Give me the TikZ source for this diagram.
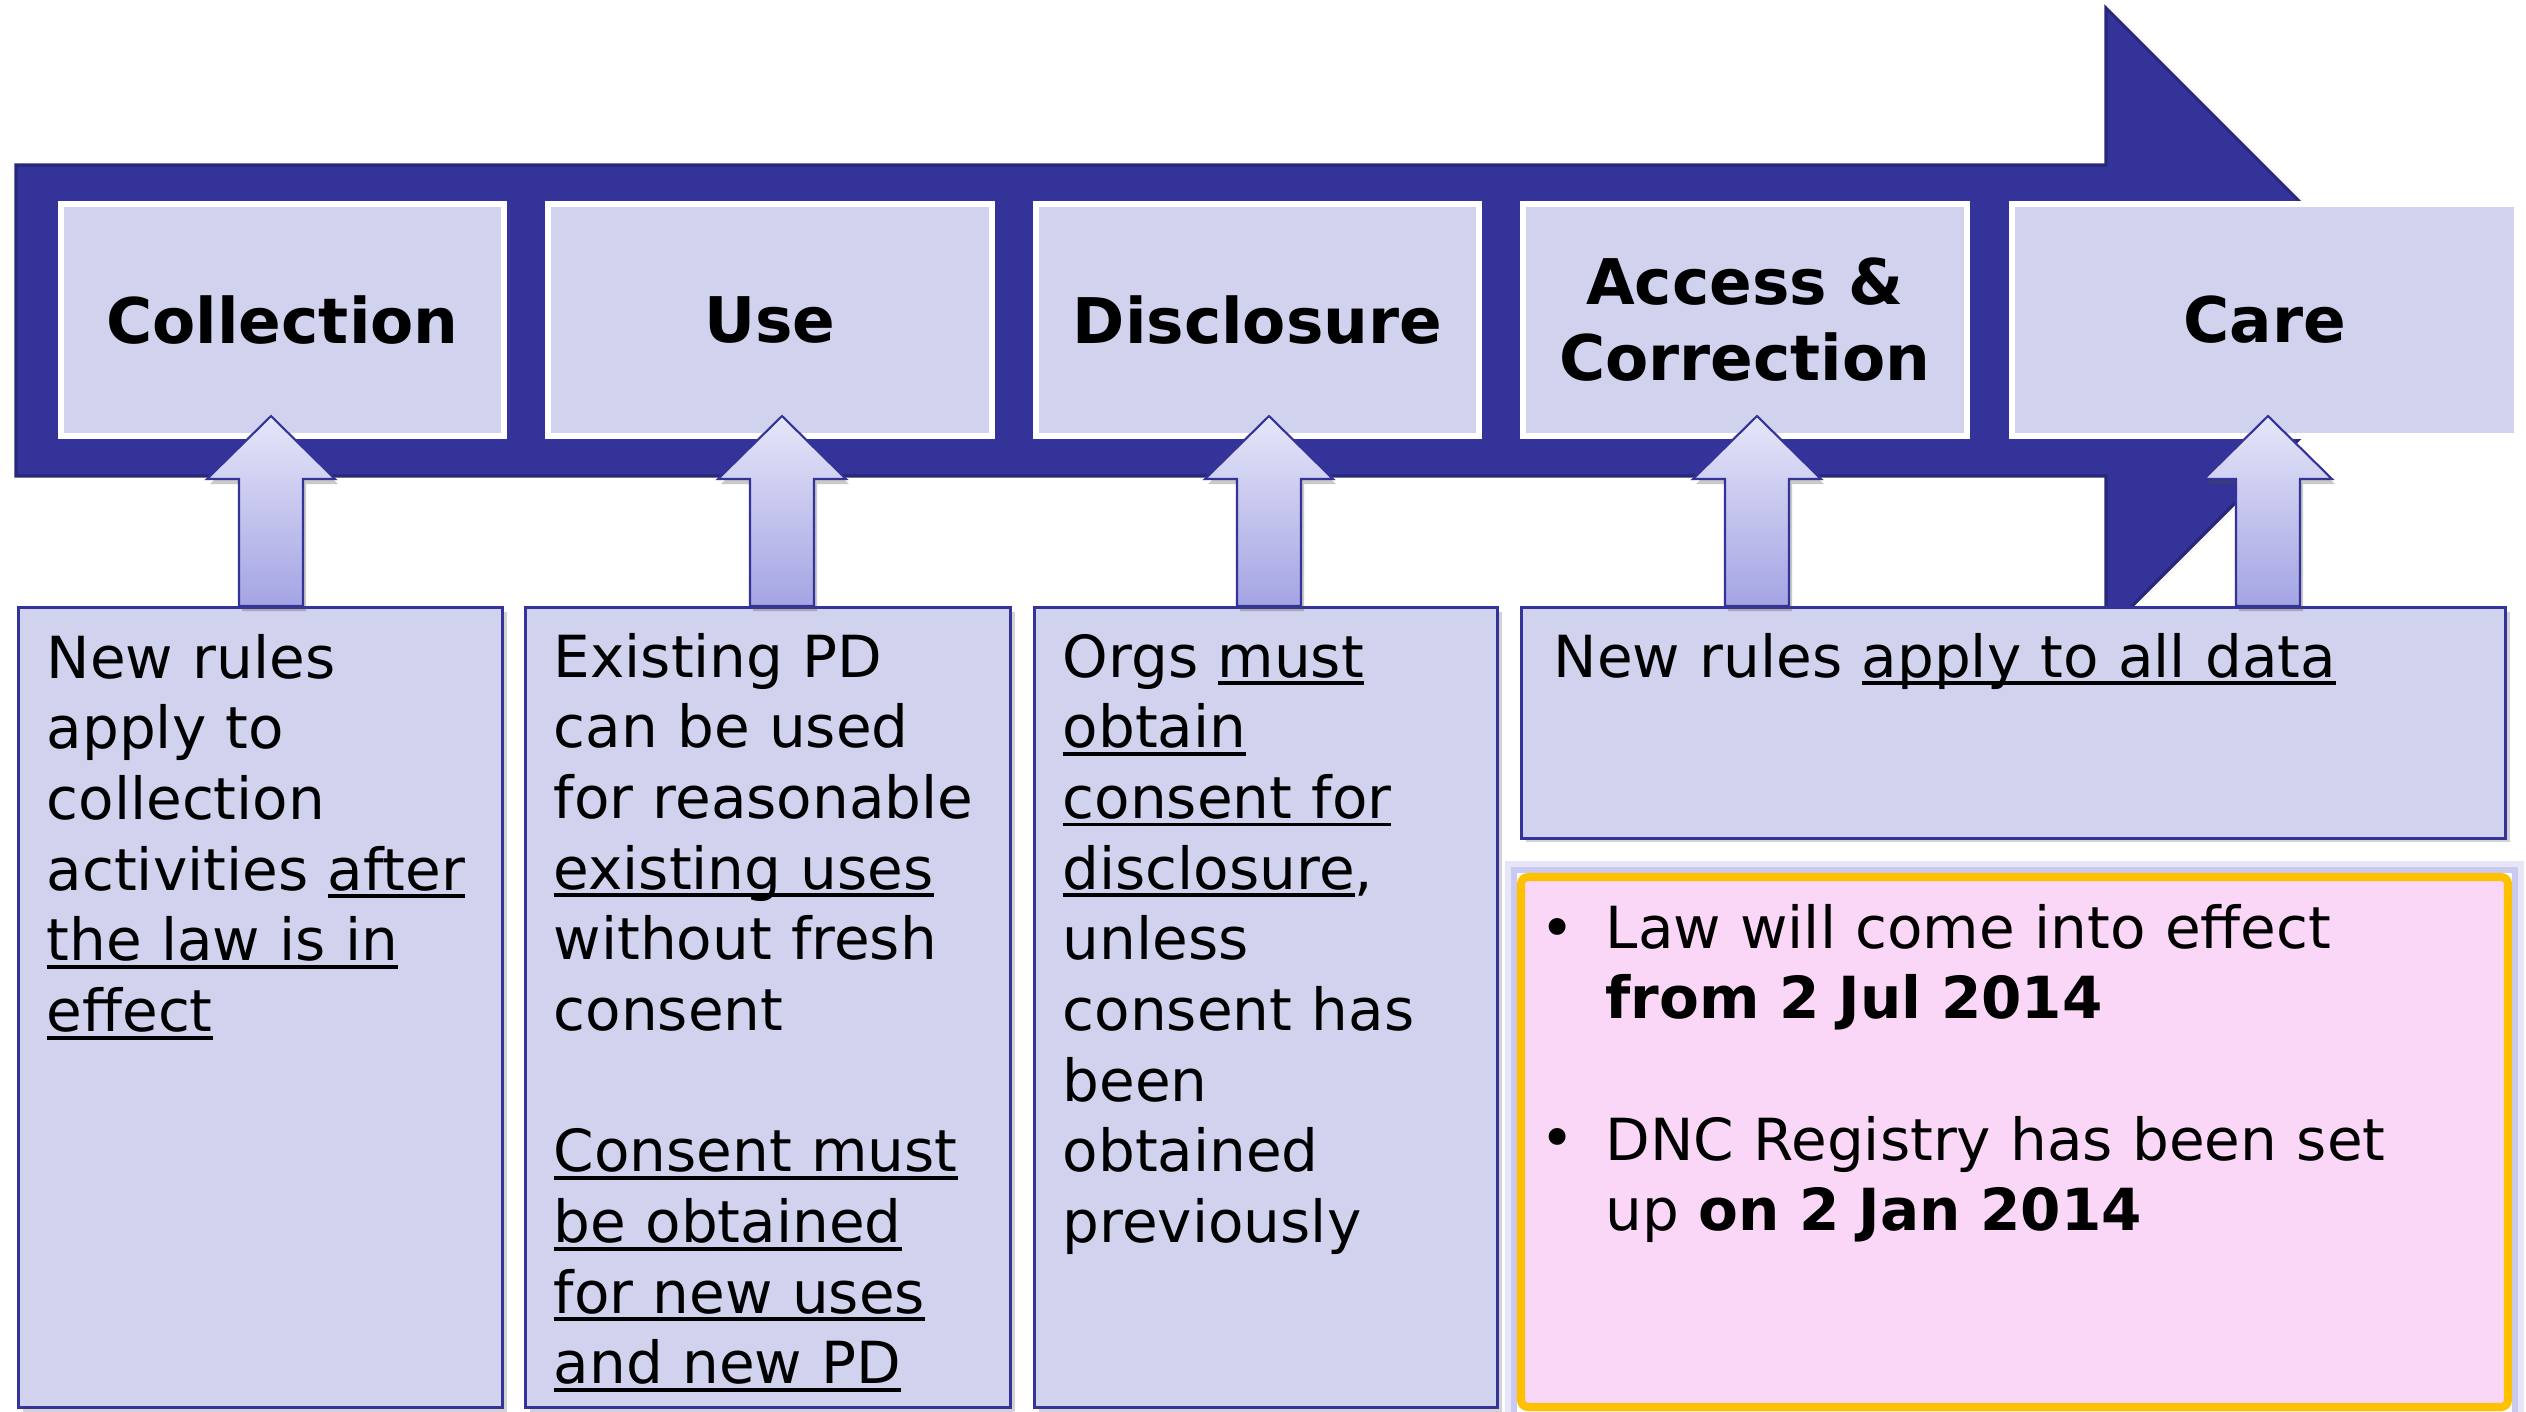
\documentclass[tikz,border=0pt]{standalone}
\usepackage{fontspec}
\setmainfont{DejaVu Sans}
\usetikzlibrary{shadows}
\definecolor{arrowblue}{HTML}{333399}
\definecolor{arrowedge}{HTML}{28287A}
\definecolor{boxfill}{HTML}{D0D2EE}
\definecolor{pinkfill}{HTML}{FAD7F6}
\definecolor{orangeedge}{HTML}{FFC000}
\definecolor{upTop}{HTML}{E6E6F9}
\definecolor{upBot}{HTML}{A4A4E4}
\definecolor{glowcol}{HTML}{B8B8EC}
\newcommand{\ulx}[1]{\leavevmode\setbox0\hbox{#1}\rlap{\rule[-2.3pt]{\wd0}{1.1pt}}\box0}
\newcommand{\bodyfont}{\fontsize{16.5pt}{20.1pt}\selectfont}
\newcommand{\titlefont}{\fontsize{17.9pt}{21.6pt}\selectfont\bfseries}
\begin{document}
\begin{tikzpicture}[x=0.01cm,y=-0.01cm,
  bigarrow/.style={fill=arrowblue, draw=arrowedge, line width=0.9pt},
  topbox/.style={fill=boxfill, draw=white, line width=1.7pt, minimum height=2.31cm, inner sep=0pt, font=\titlefont, align=center},
  lowbox/.style={fill=boxfill, draw=arrowblue, line width=0.85pt, drop shadow={shadow xshift=0.04cm, shadow yshift=-0.04cm, opacity=0.25, fill=black!70}},
  bodytext/.style={anchor=base west, inner sep=0pt, text width=9cm, align=left, font=\bodyfont},
  bullettext/.style={anchor=base, inner sep=0pt, font=\bodyfont},
  uparrow/.style={draw=arrowblue, line width=0.6pt, top color=upTop, bottom color=upBot, drop shadow={shadow xshift=0.03cm, shadow yshift=-0.05cm, opacity=0.3, fill=black!70}}]
\useasboundingbox (0,0) rectangle (2526,1411);
\begin{scope}
\clip (0,0) rectangle (2526,1411);
% big timeline arrow
\draw[bigarrow] (16,165) -- (2106,165) -- (2106,8) -- (2418,320) -- (2106,632) -- (2106,476) -- (16,476) -- cycle;
% stage boxes
\node[topbox, minimum width=4.43cm] (collection) at (282.5,320) {Collection};
\node[topbox, minimum width=4.43cm] (use) at (770,320) {Use};
\node[topbox, minimum width=4.43cm] (disclosure) at (1257.5,320) {Disclosure};
\node[topbox, minimum width=4.43cm] (access) at (1745,320) {Access \&\\Correction};
\node[topbox, minimum width=5.05cm] (care) at (2264.5,320) {Care};
% lower boxes
\draw[lowbox] (18.5,607.5) rectangle (502.5,1407.5);
\draw[lowbox] (525.5,607.5) rectangle (1010.5,1407.5);
\draw[lowbox] (1034.5,607.5) rectangle (1497.5,1407.5);
\draw[lowbox] (1521.5,607.5) rectangle (2505.5,838);
% pink box with soft glow
\draw[glowcol, line width=3.4pt, opacity=0.35] (1511,867) rectangle (2518,1425);
\draw[glowcol, line width=1.8pt, opacity=0.6] (1514,870) rectangle (2515,1425);
\draw[fill=pinkfill, draw=orangeedge, line width=2.3pt, rounded corners=2pt] (1521,877) rectangle (2508,1407);
% up arrows
\foreach \cx in {271,782,1269,1757,2268}{
  \draw[uparrow] (\cx,416) -- (\cx+64,479) -- (\cx+32,479) -- (\cx+32,606) -- (\cx-32,606) -- (\cx-32,479) -- (\cx-64,479) -- cycle;
}
% texts
\node[bodytext] (t1) at (46,678) {New rules\\apply to\\collection\\activities \ulx{after}\\\ulx{the law is in}\\\ulx{effect}};
\node[bodytext] (t2) at (553,677) {Existing PD\\can be used\\for reasonable\\\ulx{existing uses}\\without fresh\\consent\\[20.1pt]\ulx{Consent must}\\\ulx{be obtained}\\\ulx{for new uses}\\\ulx{and new PD}};
\node[bodytext] (t3) at (1062,677) {Orgs \ulx{must}\\\ulx{obtain}\\\ulx{consent for}\\\ulx{disclosure},\\unless\\consent has\\been\\obtained\\previously};
\node[bodytext] (t4) at (1553,677) {New rules \ulx{apply to all data}};
\node[bullettext] (b1) at (1558,948) {•};
\node[bullettext] (b2) at (1558,1158) {•};
\node[bodytext] (t5) at (1605,948) {Law will come into effect\\\textbf{from 2 Jul 2014}\\[20.1pt]DNC Registry has been set\\up \textbf{on 2 Jan 2014}};
\end{scope}
\end{tikzpicture}
\end{document}
